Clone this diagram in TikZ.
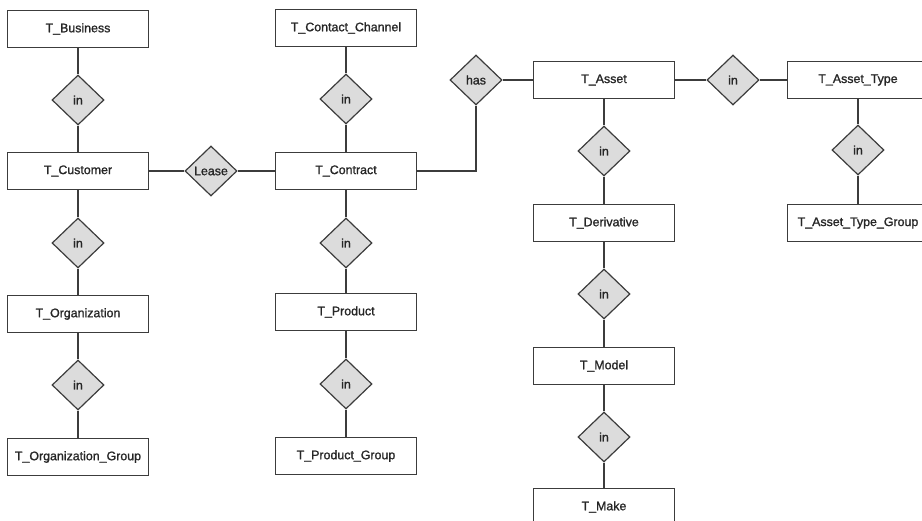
\documentclass[tikz,border=0pt]{standalone}
\usepackage{fontspec}
\setmainfont{Liberation Sans}[FakeBold=1.2]
\usetikzlibrary{shapes.geometric}
\definecolor{inkline}{HTML}{3C3C3C}
\definecolor{relfill}{HTML}{DCDCDC}
\begin{document}
\begin{tikzpicture}[x=1pt,y=-1pt,
  entity/.style={draw=inkline, line width=1.2pt, fill=white, rectangle,
    minimum width=141pt, minimum height=37pt, inner sep=0pt,
    font=\fontsize{12.4}{14}\selectfont, text=black!85},
  relation/.style={draw=inkline, line width=1.2pt, fill=relfill, diamond,
    minimum width=52pt, minimum height=50pt, inner sep=0pt,
    font=\fontsize{12.4}{14}\selectfont, text=black!85},
  link/.style={draw=inkline, line width=1.2pt}]
\useasboundingbox (0,0) rectangle (922,520);

% customer column
\node[entity]   (bus)   at (78,29)  {T\_Business};
\node[relation] (r1)    at (78,100) {in};
\node[entity]   (cust)  at (78,171) {T\_Customer};
\node[relation] (r2)    at (78,243) {in};
\node[entity]   (org)   at (78,314) {T\_Organization};
\node[relation] (r3)    at (78,385) {in};
\node[entity]   (orgg)  at (78,457) {T\_Organization\_Group};

% contract column
\node[entity]   (chan)  at (346,28)  {T\_Contact\_Channel};
\node[relation] (r4)    at (346,99)  {in};
\node[entity]   (con)   at (346,171) {T\_Contract};
\node[relation] (lease) at (211,171) {Lease};
\node[relation] (r5)    at (346,243) {in};
\node[entity]   (prod)  at (346,312) {T\_Product};
\node[relation] (r6)    at (346,384) {in};
\node[entity]   (prodg) at (346,456) {T\_Product\_Group};

% asset column
\node[relation] (has)   at (476,80)  {has};
\node[entity]   (asset) at (604,80)  {T\_Asset};
\node[relation] (r7)    at (604,151) {in};
\node[entity]   (deriv) at (604,223) {T\_Derivative};
\node[relation] (r8)    at (604,294) {in};
\node[entity]   (model) at (604,366) {T\_Model};
\node[relation] (r9)    at (604,437) {in};
\node[entity]   (make)  at (604,507) {T\_Make};

% asset type column
\node[relation] (r10)   at (733,80)  {in};
\node[entity]   (atype) at (858,80)  {T\_Asset\_Type};
\node[relation] (r11)   at (858,150) {in};
\node[entity]   (atg)   at (858,223) {T\_Asset\_Type\_Group};

% connectors
\draw[link] (bus) -- (r1) -- (cust) -- (r2) -- (org) -- (r3) -- (orgg);
\draw[link] (chan) -- (r4) -- (con) -- (r5) -- (prod) -- (r6) -- (prodg);
\draw[link] (cust) -- (lease) -- (con);
\draw[link] (con.east) -| (has.south);
\draw[link] (has) -- (asset) -- (r10) -- (atype);
\draw[link] (asset) -- (r7) -- (deriv) -- (r8) -- (model) -- (r9) -- (make);
\draw[link] (atype) -- (r11) -- (atg);
\end{tikzpicture}
\end{document}
